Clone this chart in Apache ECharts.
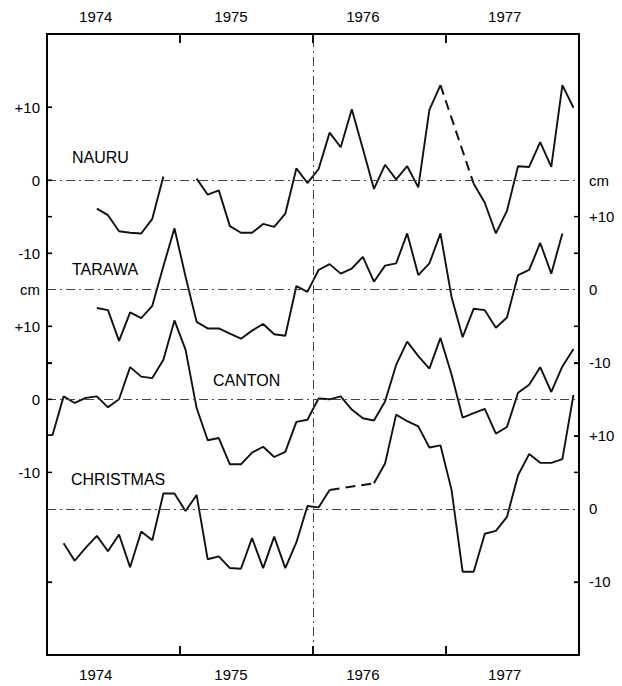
<!DOCTYPE html>
<html><head><meta charset="utf-8">
<script src="https://cdn.jsdelivr.net/npm/echarts@6/dist/echarts.min.js"></script>
<style>html,body{margin:0;padding:0;background:#fff}#c{width:622px;height:686px}</style>
</head><body><div id="c"></div>
<script>
// Monthly sea-level anomalies (cm), Dec 1973 .. Dec 1977 (49 months)
const monthLabels = (function(){const m=['Dec 1973'];for(let y=1974;y<=1977;y++)for(let i=1;i<=12;i++)m.push(y+'-'+String(i).padStart(2,'0'));return m;})();

const nauru = [null,
  null,null,null,null,-3.9,-4.8,-7.0,-7.2,-7.3,-5.3,0.5,null,
  null,0.2,-2.0,-1.4,-6.3,-7.2,-7.2,-6.0,-6.4,-4.6,1.6,-0.4,
  1.5,6.5,4.5,9.7,4.3,-1.2,2.1,0.1,1.9,-1.0,9.6,13.0,
  null,null,-0.5,-3.1,-7.3,-4.2,1.9,1.8,5.2,1.8,13.0,9.9];
const tarawa = [null,
  null,null,null,null,-2.5,-2.8,-7.0,-3.1,-3.9,-2.2,3.2,8.4,
  1.8,-4.4,-5.3,-5.3,-6.0,-6.7,-5.6,-4.7,-6.1,-6.3,0.5,-0.3,
  2.7,3.5,2.2,2.9,4.5,1.1,3.3,3.6,7.7,2.0,3.6,7.7,
  -1.0,-6.5,-2.6,-2.8,-5.2,-3.8,2.0,2.7,6.4,2.2,7.7,null];
const canton = [-4.9,
  -4.9,0.4,-0.5,0.2,0.4,-1.1,0.0,4.4,3.1,2.9,5.4,10.8,
  6.8,-1.2,-5.6,-5.3,-8.9,-8.9,-7.3,-6.5,-7.9,-7.2,-3.1,-2.8,
  0.1,0.0,0.4,-1.4,-2.6,-2.9,-0.3,4.7,7.9,5.9,4.2,8.4,
  3.4,-2.5,-1.9,-1.3,-4.7,-3.8,0.9,2.0,4.4,1.0,4.5,6.9];
const christmas = [null,
  null,-4.7,-7.1,-5.3,-3.7,-5.8,-3.5,-8.0,-3.1,-4.3,2.1,2.1,
  -0.3,1.9,-6.9,-6.5,-8.1,-8.2,-4.0,-8.1,-3.8,-8.1,-4.6,0.4,
  0.2,2.6,null,null,null,3.5,6.2,12.9,12.0,11.3,8.4,8.7,
  2.6,-8.6,-8.6,-3.4,-3.0,-1.1,4.6,7.5,6.3,6.3,6.8,15.6];

// months (array index) bridged by a dashed line where data are missing
const nauruGap = [36, 39];
const christmasGap = [26, 30];

const stationNames = ['NAURU','TARAWA','CANTON','CHRISTMAS'];
const yearLabels = ['1974','1975','1976','1977'];
const yearLabelMonth = [4.4, 16.6, 28.5, 41.3];
const yearTickMonth = [12, 24, 36];
const leftTickValues = [55,45,40,35,25,20,15,5,-10];
const leftLabelValues = [55,45,35,30,25,15,5];
const leftLabelTexts = ['+10','0','-10','cm','+10','0','-10'];
const rightTickValues = [40,35,25,20,10,5,-10];
const rightLabelValues = [45,40,30,20,10,0,-10];
const rightLabelTexts = ['cm','+10','0','-10','+10','0','-10'];

// vertical offset (cm) of each record in the stacked display
const stackOffset = [45, 30, 15, 0];

const X_MIN = 0, X_MAX = 48, Y_MIN = -20, Y_MAX = 65;
const FONT = 'Liberation Sans';
function pairs(arr, off){ return arr.map((v,i)=>[i-0.5, v==null?null:v+off]); }
function gapPairs(arr, gap, off){ return arr.map((v,i)=>[i-0.5, (i===gap[0]||i===gap[1])?v+off:null]); }
function lookup(vals, texts){ return function(v){ for(let i=0;i<vals.length;i++) if(Math.abs(vals[i]-v)<1e-6) return texts[i]; return ''; }; }

const zeroStyle = {type:[9,4,2,4], color:'#444', width:1};
function zeroLine(off){ return {silent:true, symbol:['none','none'], label:{show:false}, lineStyle:zeroStyle, data:[{yAxis:off}]}; }

const lineStyle = {color:'#111', width:1.9};
const dashStyle = {color:'#111', width:2, type:[10,6]};

const records = [nauru, tarawa, canton, christmas];
const series = [];
records.forEach((arr, idx)=>{
  const s = {type:'line', name:stationNames[idx], data:pairs(arr, stackOffset[idx]), symbol:'none', lineStyle:lineStyle, connectNulls:false, clip:true, markLine:zeroLine(stackOffset[idx])};
  if(idx===0){
    s.markLine.data.push({xAxis:24});
  }
  series.push(s);
});
series.push({type:'line', data:gapPairs(nauru, nauruGap, stackOffset[0]), symbol:'none', connectNulls:true, lineStyle:dashStyle});
series.push({type:'line', data:gapPairs(christmas, christmasGap, stackOffset[3]), symbol:'none', connectNulls:true, lineStyle:dashStyle});

function xAxis(pos){
  return {type:'value', position:pos, min:X_MIN, max:X_MAX,
    axisLine:{show:true, onZero:false, lineStyle:{color:'#000', width:2}},
    axisTick:{show:true, inside:true, length:9, customValues:yearTickMonth, lineStyle:{color:'#000', width:1.5}},
    axisLabel:{show:true, customValues:yearLabelMonth, formatter:lookup(yearLabelMonth, yearLabels), fontFamily:FONT, fontSize:15, color:'#000', margin: pos==='top'?10:12},
    splitLine:{show:false}};
}
function yAxis(pos, ticks, labVals, labTexts){
  return {type:'value', position:pos, min:Y_MIN, max:Y_MAX,
    axisLine:{show:true, onZero:false, lineStyle:{color:'#000', width:2}},
    axisTick:{show:true, inside:true, length:5, customValues:ticks, lineStyle:{color:'#000', width:1.2}},
    axisLabel:{show:true, customValues:labVals, formatter:lookup(labVals, labTexts), fontFamily:FONT, fontSize:15, color:'#000', margin: pos==='left'?7:10},
    splitLine:{show:false}};
}

const nameFont = '16px "' + FONT + '"';
const namePos = [[72,157],[72,269],[213,380],[71,479]];
function nameGraphics(){
  return stationNames.map((n,i)=>({type:'text', id:'name'+i, left:namePos[i][0], top:namePos[i][1]-8, z:50, style:{text:n, font:nameFont, fill:'#000'}}));
}
const chart = echarts.init(document.getElementById('c'), null, {renderer:'svg'});
chart.setOption({
  animation:false,
  backgroundColor:'#fff',
  grid:{left:47, right:43, top:34, bottom:31},
  xAxis:[xAxis('bottom'), xAxis('top')],
  yAxis:[yAxis('left', leftTickValues, leftLabelValues, leftLabelTexts), yAxis('right', rightTickValues, rightLabelValues, rightLabelTexts)],
  series: series,
  graphic: nameGraphics()
});

// inward tick marks on the frame, placed through the grid's own scales
const tickGraphics = [];
function addTick(id, dataPt, dx, dy, w){
  const p = chart.convertToPixel({gridIndex:0}, dataPt);
  tickGraphics.push({type:'line', id:id, z:100, silent:true,
    shape:{x1:p[0], y1:p[1], x2:p[0]+dx, y2:p[1]+dy}, style:{stroke:'#000', lineWidth:w}});
}
yearTickMonth.forEach((v,i)=>{ addTick('tb'+i, [v, Y_MIN], 0, -9, 1.5); addTick('tt'+i, [v, Y_MAX], 0, 9, 1.5); });
leftTickValues.forEach((v,i)=>addTick('tl'+i, [X_MIN, v], 5, 0, 1.3));
rightTickValues.forEach((v,i)=>addTick('tr'+i, [X_MAX, v], -5, 0, 1.3));
chart.setOption({graphic: nameGraphics().concat(tickGraphics)});
</script></body></html>
